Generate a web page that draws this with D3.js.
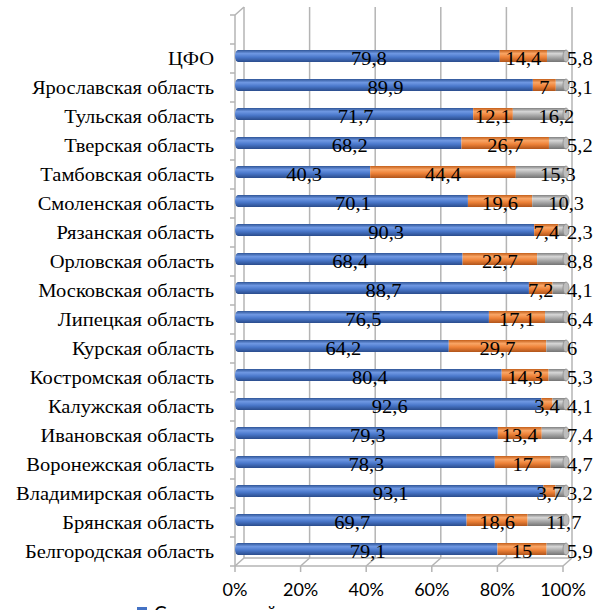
<!DOCTYPE html>
<html>
<head>
<meta charset="utf-8">
<script src="https://cdn.jsdelivr.net/npm/d3@7"></script>
<style>
  html, body { margin: 0; padding: 0; background: #fff; }
  svg { display: block; }
  .serif { font-family: "Liberation Serif", "DejaVu Serif", serif; }
  .sans { font-family: Lato, "Open Sans", sans-serif; }
</style>
</head>
<body>
<svg id="chart" width="604" height="610"></svg>
<script>
// Regions of the Central Federal District, top to bottom
const categories = [
  "ЦФО", "Ярославская область", "Тульская область", "Тверская область",
  "Тамбовская область", "Смоленская область", "Рязанская область",
  "Орловская область", "Московская область", "Липецкая область",
  "Курская область", "Костромская область", "Калужская область",
  "Ивановская область", "Воронежская область", "Владимирская область",
  "Брянская область", "Белгородская область"
];
const series1 = [79.8, 89.9, 71.7, 68.2, 40.3, 70.1, 90.3, 68.4, 88.7, 76.5, 64.2, 80.4, 92.6, 79.3, 78.3, 93.1, 69.7, 79.1];
const series2 = [14.4, 7, 12.1, 26.7, 44.4, 19.6, 7.4, 22.7, 7.2, 17.1, 29.7, 14.3, 3.4, 13.4, 17, 3.7, 18.6, 15];
const series3 = [5.8, 3.1, 16.2, 5.2, 15.3, 10.3, 2.3, 8.8, 4.1, 6.4, 6, 5.3, 4.1, 7.4, 4.7, 3.2, 11.7, 5.9];
const tickLabels = ["0%", "20%", "40%", "60%", "80%", "100%"];
const legendLabels = ["Современный"];

const keys = ["s1", "s2", "s3"];
const colors = { s1: "#4472c4", s2: "#ed7d31", s3: "#a5a5a5" };
const shades = {
  s1: ["#2f5597", "#6f98e3", "#4a78cb", "#2a4c8c"],
  s2: ["#c45f1a", "#f9a565", "#ee8238", "#b0541a"],
  s3: ["#808080", "#d6d6d6", "#aaaaaa", "#747474"]
};

const rows = categories.map((c, i) => ({ cat: c, s1: series1[i], s2: series2[i], s3: series3[i] }));

const svg = d3.select("#chart");

// plot geometry (front plane) and 3D depth offset of the back wall
const plotL = 235, plotR = 563, plotT = 15, plotB = 566;
const depthX = 9, depthY = -8;
const barDX = 3, barDY = -2.5, barH = 12;
const rowStep = 29;
const stretch = 1.08; // serif text is drawn slightly widened

const x = d3.scaleLinear().domain([0, 1]).range([plotL, plotR]);
const y = d3.scaleBand().domain(categories).range([plotT + rowStep, plotB]).padding(0);

// gradients for cylinder shading
const defs = svg.append("defs");
keys.forEach(k => {
  const g = defs.append("linearGradient").attr("id", "grad-" + k)
    .attr("x1", 0).attr("y1", 0).attr("x2", 0).attr("y2", 1);
  [0, 0.3, 0.6, 1].forEach((o, j) => g.append("stop").attr("offset", o).attr("stop-color", shades[k][j]));
});

const gridColor = "#b4b4b4";
const wall = svg.append("g").attr("fill", "none").attr("stroke", gridColor).attr("stroke-width", 1.5);

// back wall vertical gridlines, floor lines and axis ticks
const ticks = d3.range(0, 1.0001, 0.2);
ticks.forEach(t => {
  wall.append("line")
    .attr("x1", x(t) + depthX).attr("x2", x(t) + depthX)
    .attr("y1", plotT + depthY).attr("y2", plotB + depthY);
  wall.append("line")
    .attr("x1", x(t) + depthX).attr("y1", plotB + depthY)
    .attr("x2", x(t)).attr("y2", plotB);
  wall.append("line")
    .attr("x1", x(t)).attr("x2", x(t))
    .attr("y1", plotB).attr("y2", plotB + 6);
});
// floor edges
wall.append("line").attr("x1", plotL + depthX).attr("x2", plotR + depthX)
  .attr("y1", plotB + depthY).attr("y2", plotB + depthY);
wall.append("line").attr("x1", plotL).attr("x2", plotR)
  .attr("y1", plotB).attr("y2", plotB);
// left side wall
wall.append("line").attr("x1", plotL).attr("x2", plotL).attr("y1", plotT).attr("y2", plotB);
wall.append("line").attr("x1", plotL).attr("y1", plotT).attr("x2", plotL + depthX).attr("y2", plotT + depthY);
// category tick marks on the left axis
d3.range(0, categories.length + 2).forEach(i => {
  const yy = plotT + i * rowStep;
  if (yy > plotB + 0.5) return;
  wall.append("line").attr("x1", plotL - 5).attr("x2", plotL).attr("y1", yy).attr("y2", yy);
});

// stacked 100% bars
const stacked = d3.stack().keys(keys).offset(d3.stackOffsetExpand)(rows);
const barG = svg.append("g");
rows.forEach((r, i) => {
  const cy = y(r.cat) + y.bandwidth() / 2 + barDY;
  stacked.forEach((layer, li) => {
    const d = layer[i];
    const x0 = x(d[0]) + barDX, x1 = x(d[1]) + barDX;
    barG.append("rect")
      .attr("x", x0).attr("y", cy - barH / 2)
      .attr("width", Math.max(0, x1 - x0)).attr("height", barH)
      .attr("fill", "url(#grad-" + layer.key + ")");
    if (li === 0) {
      barG.append("ellipse").attr("cx", x0).attr("cy", cy).attr("rx", 3).attr("ry", barH / 2)
        .attr("fill", "url(#grad-" + layer.key + ")");
    }
    if (li === stacked.length - 1) {
      barG.append("ellipse").attr("cx", x1).attr("cy", cy).attr("rx", 3).attr("ry", barH / 2)
        .attr("fill", "#bdbdbd").attr("stroke", "#8a8a8a").attr("stroke-width", 0.8);
    }
  });
});

// helper: serif text placed at (px, py), widened horizontally
function serifText(g, px, py, anchor, str) {
  g.append("text")
    .attr("transform", `translate(${px},${py}) scale(${stretch},1)`)
    .attr("dy", "0.35em").attr("text-anchor", anchor).text(str);
}

// value labels
const fmt = v => String(v).replace(".", ",");
const labG = svg.append("g").attr("class", "serif")
  .attr("font-size", 19).attr("fill", "#000");
rows.forEach((r, i) => {
  const cy = y(r.cat) + y.bandwidth() / 2 + barDY;
  stacked.forEach((layer, li) => {
    const d = layer[i];
    const x0 = x(d[0]) + barDX, x1 = x(d[1]) + barDX;
    const v = r[layer.key];
    let tx = (x0 + x1) / 2, anchor = "middle";
    if (li === stacked.length - 1) {
      if (v < 10) { tx = x1 + 1; anchor = "start"; }
      else { tx = (x0 + x1) / 2 + 17; }
    }
    serifText(labG, tx, cy + 2, anchor, fmt(v));
  });
});

// category labels
const catG = svg.append("g").attr("class", "serif")
  .attr("font-size", 19).attr("fill", "#000");
categories.forEach(c => {
  serifText(catG, 214, y(c) + y.bandwidth() / 2, "end", c);
});

// percentage axis labels
const axG = svg.append("g").attr("class", "sans")
  .attr("font-size", 18).attr("fill", "#000").attr("text-anchor", "middle");
ticks.forEach((t, i) => {
  axG.append("text").attr("x", x(t)).attr("y", 596).text(tickLabels[i]);
});

// legend (first entry, at the lower edge)
const lg = svg.append("g");
lg.append("rect").attr("x", 137).attr("y", 607).attr("width", 10).attr("height", 10).attr("fill", colors.s1);
lg.append("text").attr("class", "sans").attr("x", 154).attr("y", 620)
  .attr("font-size", 19)
  .text(legendLabels[0]);
</script>
</body>
</html>
